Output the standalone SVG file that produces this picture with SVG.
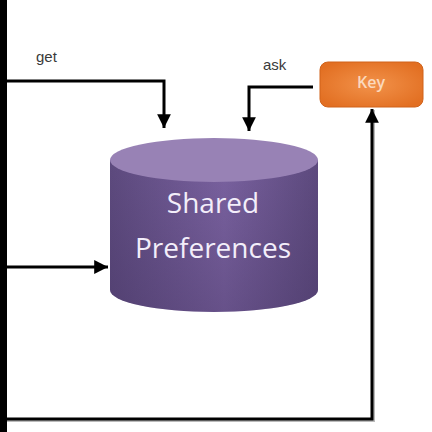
<svg xmlns="http://www.w3.org/2000/svg" width="432" height="432" viewBox="0 0 432 432">
<defs>
<style>
.ln{fill:none;stroke:#000;stroke-width:3;stroke-linejoin:miter}
.lbl{font-family:"Liberation Sans",Arial,sans-serif;font-size:15px;fill:#3a3a3a}
.big{font-family:"Open Sans","DejaVu Sans",sans-serif;font-size:28px;fill:#f3eefa;text-anchor:middle}
.key{font-family:"Open Sans","DejaVu Sans",sans-serif;font-size:16px;font-weight:600;fill:#fbd9bd;text-anchor:middle}
</style>
<marker id="ah" viewBox="0 0 10 10" refX="10" refY="5" markerWidth="4.6" markerHeight="4.6" orient="auto" markerUnits="strokeWidth">
<path d="M0,0 L10,5 L0,10 z" fill="#000"/>
</marker>
<linearGradient id="body" x1="0" y1="0" x2="1" y2="0">
<stop offset="0" stop-color="#5d4a7e"/>
<stop offset="0.55" stop-color="#7a62a0"/>
<stop offset="1" stop-color="#5d4a7e"/>
</linearGradient>
<linearGradient id="shade" x1="0" y1="0" x2="0" y2="1">
<stop offset="0" stop-color="#3a2a55" stop-opacity="0"/>
<stop offset="1" stop-color="#3a2a55" stop-opacity="0.3"/>
</linearGradient>
<radialGradient id="keyg" cx="0.5" cy="0.5" r="0.6">
<stop offset="0" stop-color="#f2924a"/>
<stop offset="1" stop-color="#e26f22"/>
</radialGradient>
</defs>
<rect width="432" height="432" fill="#fff"/>
<rect x="0" y="0" width="7" height="432" fill="#000"/>
<g id="connectors">
<path class="ln" d="M7,81 H164 V128" marker-end="url(#ah)"/>
<path class="ln" d="M313,87 H249 V131" marker-end="url(#ah)"/>
<path class="ln" d="M7,267 H108" marker-end="url(#ah)"/>
<path d="M7,421 H374 V110" fill="none" stroke="#bbb" stroke-width="2"/>
<path class="ln" d="M7,419 H372 V109" marker-end="url(#ah)"/>
</g>
<text class="lbl" x="36" y="62">get</text>
<text class="lbl" x="263" y="70">ask</text>
<g id="shared-preferences">
<path d="M110,160 V290 A104,22 0 0 0 318,290 V160 Z" fill="url(#body)"/>
<path d="M110,160 V290 A104,22 0 0 0 318,290 V160 Z" fill="url(#shade)"/>
<ellipse cx="214" cy="160" rx="104" ry="22" fill="#9882b5"/>
<text class="big" x="213" y="213">Shared</text>
<text class="big" x="213" y="258">Preferences</text>
</g>
<g id="key">
<rect x="320" y="62" width="103" height="45" rx="8" fill="url(#keyg)" stroke="#d0621a" stroke-width="1"/>
<text class="key" x="371" y="88">Key</text>
</g>
</svg>
